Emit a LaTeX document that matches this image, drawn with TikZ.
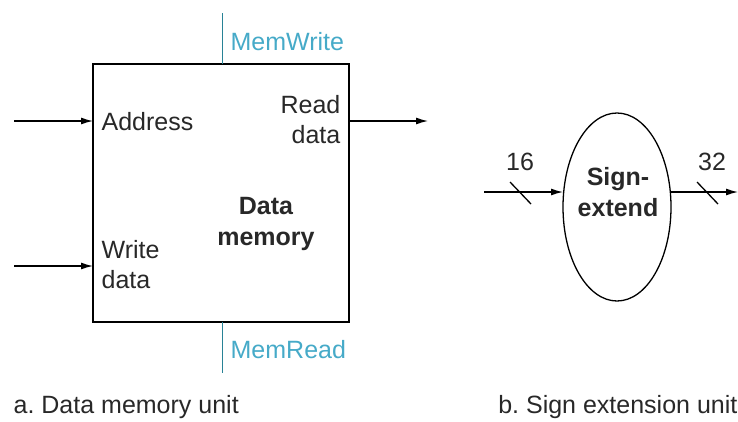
\documentclass[tikz,border=0pt]{standalone}
\usepackage{fontspec}
\setmainfont{Liberation Sans}
\frenchspacing
\usetikzlibrary{shapes.geometric,arrows.meta}
\definecolor{ctrlblue}{RGB}{70,170,200}
\definecolor{ctrlline}{RGB}{40,130,150}
\definecolor{ink}{RGB}{40,40,40}

\tikzset{
	lbl/.style={inner sep=0pt, text=ink, font=\fontsize{25}{30}\selectfont},
	ctrl/.style={lbl, text=ctrlblue},
	wire/.style={line width=1.3pt, -{Latex[length=12pt,width=7pt]}},
}

\begin{document}
\begin{tikzpicture}[x=1pt, y=-1pt, line width=1.3pt]
		\useasboundingbox (0,0) rectangle (738,421);
		% data memory
		\draw (93,64) coordinate (memtl) rectangle (349,322) coordinate (membr);
		\coordinate (addrin) at (14,121);
		\coordinate (addrend) at (93,121);
		\coordinate (wdin) at (14,266);
		\coordinate (wdend) at (93,266);
		\coordinate (rdstart) at (349,121);
		\coordinate (rdout) at (428,121);
		\draw[wire] (addrin) to (addrend);
		\draw[wire] (wdin) to (wdend);
		\draw[wire] (rdstart) to (rdout);
		\node[lbl, anchor=west] (addr) at (101,122) {Address};
		\node[lbl, anchor=west, align=left] (wd) at (101,265) {Write\\data};
		\node[lbl, anchor=east, align=right] (rd) at (341,120) {Read\\data};
		\node[lbl, align=center, font=\fontsize{25}{31}\selectfont\bfseries] (dm) at (266,224) {Data\\memory};
		\coordinate (mwtop) at (222,13);
		\coordinate (mwbot) at (222,64);
		\coordinate (mrtop) at (222,322);
		\coordinate (mrbot) at (222,373);
		\draw[ctrlline, line width=1pt] (mwtop) to (mwbot);
		\draw[ctrlline, line width=1pt] (mrtop) to (mrbot);
		\node[ctrl, anchor=west] (mw) at (230,42) {MemWrite};
		\node[ctrl, anchor=west] (mr) at (230,350) {MemRead};
		\node[lbl, anchor=west] (capa) at (13,407) {a. Data memory unit};
		% sign extend
		\node[draw, ellipse, minimum width=108pt, minimum height=188pt, inner sep=0pt] (se) at (617,207) {};
		\node[lbl, align=center, font=\fontsize{25}{31}\selectfont\bfseries] (setxt) at (618,192) {Sign-\\extend};
		\coordinate (sein) at (484,192);
		\coordinate (seinend) at (563,192);
		\coordinate (seoutstart) at (671,192);
		\coordinate (seout) at (738,192);
		\draw[wire] (sein) to (seinend);
		\draw[wire] (seoutstart) to (seout);
		\draw (510,182) to (531,204);
		\draw (697,182) to (718,204);
		\node[lbl] (w16) at (520,162) {16};
		\node[lbl] (w32) at (712,162) {32};
		\node[lbl, anchor=east] (capb) at (738,407) {b. Sign extension unit};
	\end{tikzpicture}
\end{document}
